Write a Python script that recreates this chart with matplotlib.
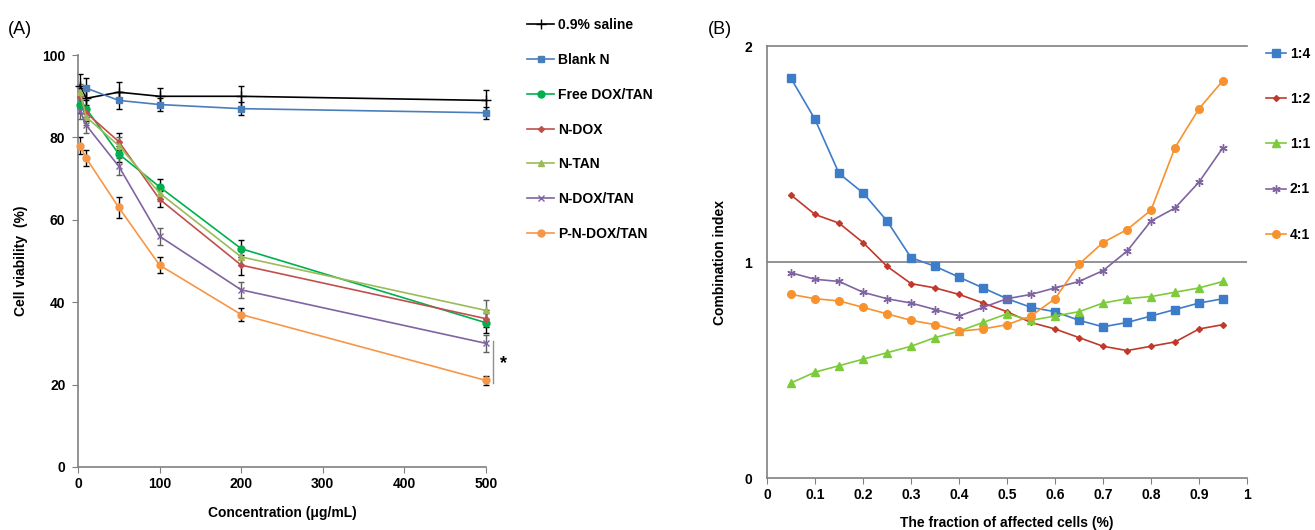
import numpy as np
import matplotlib
matplotlib.use('Agg')
import matplotlib.pyplot as plt

plt.rcParams['font.family'] = ['Liberation Sans', 'DejaVu Sans']
plt.rcParams['font.weight'] = 'bold'

# ---- painel A: viabilidade celular ----
conc = [2.5, 10, 50, 100, 200, 500]
grupos = ['0.9% saline', 'Blank N', 'Free DOX/TAN', 'N-DOX', 'N-TAN', 'N-DOX/TAN', 'P-N-DOX/TAN']
saline = [92.5, 89.5, 91, 90, 90, 89]
blank_n = [np.nan, 92, 89, 88, 87, 86]
free_dox_tan = [88, 87, 76, 68, 53, 35]
n_dox = [90, 86, 79, 65, 49, 36]
n_tan = [91, 85, 78, 66.5, 51, 38]
n_dox_tan = [86.5, 83, 73, 56, 43, 30]
p_n_dox_tan = [78, 75, 63, 49, 37, 21]
err_saline = [3, 2, 2.5, 2, 2.5, 2.5]
err_blank = [0, 2.5, 2, 1.5, 1.5, 1.5]
err_free = [2, 2, 2, 2, 2, 2.5]
err_ndox = [2, 2, 2, 2, 2.5, 2]
err_ntan = [2, 2, 2, 2, 2, 2.5]
err_ndoxtan = [2, 2, 2, 2, 2, 2]
err_pn = [2, 2, 2.5, 2, 1.5, 1]

# ---- painel B: índice de combinação ----
fa = [0.05, 0.1, 0.15, 0.2, 0.25, 0.3, 0.35, 0.4, 0.45, 0.5,
      0.55, 0.6, 0.65, 0.7, 0.75, 0.8, 0.85, 0.9, 0.95]
razoes = ['1:4', '1:2', '1:1', '2:1', '4:1']
ci_1_4 = [1.85, 1.66, 1.41, 1.32, 1.19, 1.02, 0.98, 0.93, 0.88, 0.83,
          0.79, 0.77, 0.73, 0.70, 0.72, 0.75, 0.78, 0.81, 0.83]
ci_1_2 = [1.31, 1.22, 1.18, 1.09, 0.98, 0.90, 0.88, 0.85, 0.81, 0.77,
          0.72, 0.69, 0.65, 0.61, 0.59, 0.61, 0.63, 0.69, 0.71]
ci_1_1 = [0.44, 0.49, 0.52, 0.55, 0.58, 0.61, 0.65, 0.68, 0.72, 0.76,
          0.73, 0.75, 0.77, 0.81, 0.83, 0.84, 0.86, 0.88, 0.91]
ci_2_1 = [0.95, 0.92, 0.91, 0.86, 0.83, 0.81, 0.78, 0.75, 0.79, 0.83,
          0.85, 0.88, 0.91, 0.96, 1.05, 1.19, 1.25, 1.37, 1.53]
ci_4_1 = [0.85, 0.83, 0.82, 0.79, 0.76, 0.73, 0.71, 0.68, 0.69, 0.71,
          0.75, 0.83, 0.99, 1.09, 1.15, 1.24, 1.53, 1.71, 1.84]

fig = plt.figure(figsize=(13.15, 5.3), dpi=100)
cinza = '#808080'

axA = fig.add_axes([0.0593, 0.119, 0.3103, 0.777])
estilosA = [
    (saline, err_saline, 'black', '+', 7, 'black'),
    (blank_n, err_blank, '#4A7EBB', 's', 5, 'black'),
    (free_dox_tan, err_free, '#00B050', 'o', 5, 'black'),
    (n_dox, err_ndox, '#C0504D', 'D', 3, 'black'),
    (n_tan, err_ntan, '#9BBB59', '^', 5, '#606060'),
    (n_dox_tan, err_ndoxtan, '#8064A2', 'x', 5, '#606060'),
    (p_n_dox_tan, err_pn, '#F79646', 'o', 5, 'black'),
]
for (vals, err, cor, mk, ms, ecor), nome in zip(estilosA, grupos):
    axA.errorbar(conc, vals, yerr=err, fmt='none', ecolor=ecor, elinewidth=1,
                 capsize=2.5, capthick=1, clip_on=False, zorder=2)
    axA.plot(conc, vals, color=cor, marker=mk, markersize=ms, lw=1.2,
             label=nome, clip_on=False, zorder=3)

axA.set_xlim(0, 500)
axA.set_ylim(0, 100)
axA.set_xticks(range(0, 501, 100))
axA.set_yticks(range(0, 101, 20))
for s in ['top', 'right']:
    axA.spines[s].set_visible(False)
for s in ['left', 'bottom']:
    axA.spines[s].set_color(cinza)
    axA.spines[s].set_linewidth(1.2)
axA.tick_params(axis='x', direction='out', length=4, color=cinza, labelsize=10, pad=3)
axA.tick_params(axis='y', direction='out', length=4, color=cinza, labelsize=10, pad=5)
axA.set_xlabel('Concentration (μg/mL)', fontsize=10, fontweight='bold', labelpad=11)
axA.set_ylabel('Cell viability  (%)', fontsize=10, fontweight='bold', labelpad=10)

# marca de significância
axA.plot([509, 509], [30.5, 20.5], color='#909090', lw=1, clip_on=False)
axA.text(522, 25, '*', fontsize=13, ha='center', va='center', clip_on=False)

fig.legend(*axA.get_legend_handles_labels(), loc='upper left',
           bbox_to_anchor=(0.401, 0.966), frameon=False, fontsize=10,
           labelspacing=1.5, handlelength=1.9, handletextpad=0.3,
           borderpad=0, borderaxespad=0)

axB = fig.add_axes([0.5833, 0.0981, 0.365, 0.8151])
estilosB = [
    (ci_1_4, '#3D7CC9', 's', 5.5),
    (ci_1_2, '#C0392B', 'D', 3),
    (ci_1_1, '#7DCB3A', '^', 6),
    (ci_2_1, '#8064A2', (6, 2, 0), 6),
    (ci_4_1, '#F7922E', 'o', 5.5),
]
for (vals, cor, mk, ms), nome in zip(estilosB, razoes):
    axB.plot(fa, vals, color=cor, marker=mk, markersize=ms, lw=1.2, label=nome)

axB.axhline(1, color=cinza, lw=1.2, zorder=1)
axB.set_xlim(0, 1)
axB.set_ylim(0, 2)
axB.set_xticks(np.arange(0, 1.01, 0.1))
axB.set_xticklabels(['0', '0.1', '0.2', '0.3', '0.4', '0.5', '0.6', '0.7', '0.8', '0.9', '1'])
axB.set_yticks([0, 1, 2])
axB.spines['right'].set_visible(False)
for s in ['left', 'bottom', 'top']:
    axB.spines[s].set_color(cinza)
    axB.spines[s].set_linewidth(1.2)
axB.tick_params(axis='x', direction='out', length=4, color=cinza, labelsize=10, pad=3)
axB.tick_params(axis='y', length=0, labelsize=10, pad=11)
axB.set_xlabel('The fraction of affected cells (%)', fontsize=10, fontweight='bold', labelpad=10)
axB.set_ylabel('Combination index', fontsize=10, fontweight='bold', labelpad=12)

fig.legend(*axB.get_legend_handles_labels(), loc='upper left',
           bbox_to_anchor=(0.963, 0.912), frameon=False, fontsize=10,
           labelspacing=2.25, handlelength=1.4, handletextpad=0.3,
           borderpad=0, borderaxespad=0)

fig.text(0.006, 0.945, '(A)', fontsize=13, fontweight='normal', va='center')
fig.text(0.538, 0.945, '(B)', fontsize=13, fontweight='normal', va='center')

plt.savefig('out.png', dpi=100)
